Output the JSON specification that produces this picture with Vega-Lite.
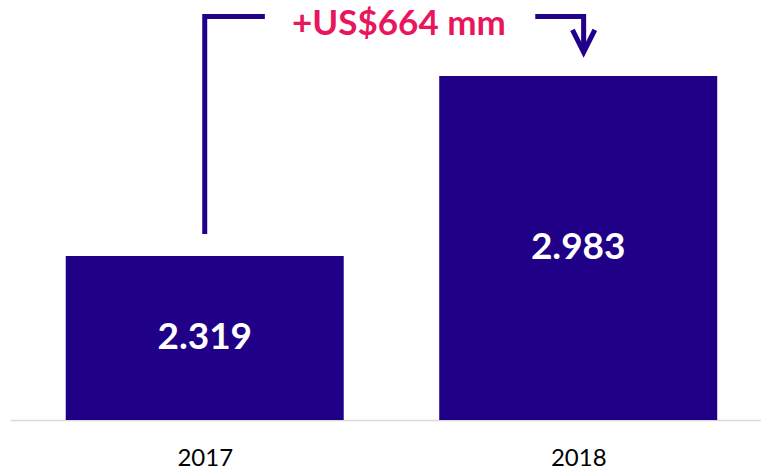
{
  "$schema": "https://vega.github.io/schema/vega-lite/v6.json",
  "width": 751,
  "height": 420,
  "padding": {"left": 10, "top": 0, "right": 0, "bottom": 0},
  "background": "white",
  "config": {"view": {"stroke": null}, "font": "Lato"},
  "datasets": {
    "bars": [
      {"year": 2017, "value": 2.319},
      {"year": 2018, "value": 2.983}
    ],
    "connector": [
      {"seg": "left", "order": 1, "x": 2017.0, "y": 2.40},
      {"seg": "left", "order": 2, "x": 2017.0, "y": 3.2025},
      {"seg": "left", "order": 3, "x": 2017.161, "y": 3.2025},
      {"seg": "right", "order": 1, "x": 2017.885, "y": 3.2025},
      {"seg": "right", "order": 2, "x": 2018.0145, "y": 3.2025},
      {"seg": "right", "order": 3, "x": 2018.0145, "y": 3.075}
    ],
    "head": [{"x": 2018.0145, "y": 3.112}],
    "note": [{"x": 2017.52, "y": 3.2025, "label": "+US$664 mm"}]
  },
  "encoding": {},
  "layer": [
    {
      "data": {"name": "bars"},
      "mark": {"type": "bar", "size": 278, "color": "#1f0087"},
      "encoding": {
        "x": {
          "field": "year", "type": "quantitative",
          "scale": {"domain": [2016.492, 2018.476], "nice": false, "zero": false},
          "axis": {
            "values": [2017, 2018], "format": "d", "title": null,
            "ticks": false, "grid": false,
            "domainColor": "#d9d9d9", "domainWidth": 1.5,
            "labelFontSize": 24, "labelColor": "#000000", "labelPadding": 26,
            "labelFont": "Lato"
          }
        },
        "y": {
          "field": "value", "type": "quantitative",
          "scale": {"domain": [1.714, 3.2633], "nice": false, "zero": false},
          "axis": null
        },
        "y2": {"datum": 1.714}
      }
    },
    {
      "data": {"name": "bars"},
      "transform": [{"calculate": "(datum.value + 1.714) / 2", "as": "mid"}],
      "mark": {"type": "text", "color": "white", "fontWeight": "bold", "fontSize": 37, "baseline": "middle", "align": "center"},
      "encoding": {
        "x": {"field": "year", "type": "quantitative"},
        "y": {"field": "mid", "type": "quantitative"},
        "text": {"field": "value", "type": "quantitative", "format": ".3f"}
      }
    },
    {
      "data": {"name": "connector"},
      "mark": {"type": "line", "color": "#22008a", "strokeWidth": 5, "strokeJoin": "miter", "strokeCap": "butt"},
      "encoding": {
        "x": {"field": "x", "type": "quantitative"},
        "y": {"field": "y", "type": "quantitative"},
        "detail": {"field": "seg", "type": "nominal"},
        "order": {"field": "order", "type": "quantitative"}
      }
    },
    {
      "data": {"name": "head"},
      "mark": {"type": "point", "shape": "M-1,-1L0,1L1,-1", "size": 500, "filled": false, "stroke": "#22008a", "strokeWidth": 5, "strokeJoin": "miter", "opacity": 1},
      "encoding": {
        "x": {"field": "x", "type": "quantitative"},
        "y": {"field": "y", "type": "quantitative"}
      }
    },
    {
      "data": {"name": "note"},
      "mark": {"type": "text", "color": "#e8175d", "fontWeight": "bold", "fontSize": 35, "baseline": "middle", "align": "center", "dy": 8},
      "encoding": {
        "x": {"field": "x", "type": "quantitative"},
        "y": {"field": "y", "type": "quantitative"},
        "text": {"field": "label", "type": "nominal"}
      }
    }
  ]
}
